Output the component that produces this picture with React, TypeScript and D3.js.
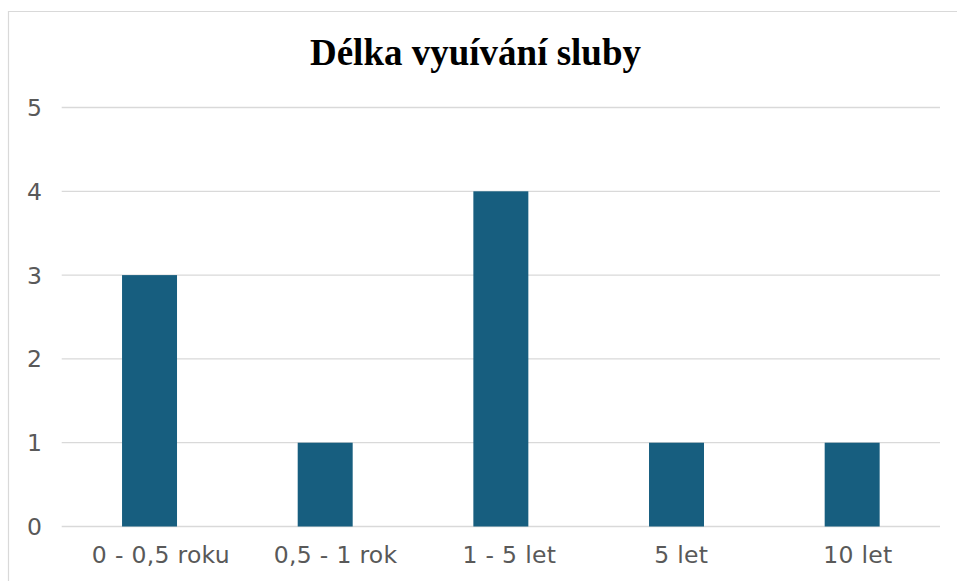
import React from "react";
import * as d3 from "d3";

const categories = ["0 - 0,5 roku", "0,5 - 1 rok", "1 - 5 let", "5 let", "10 let"];
const values = [3, 1, 4, 1, 1];
const yTicks = [0, 1, 2, 3, 4, 5];
const title = "Délka vyuívání sluby";

const W = 957;
const H = 581;
const plot = { left: 61.7, right: 940, top: 107.5, bottom: 526.5 };

export default function App() {
  const x = d3
    .scaleBand<string>()
    .domain(categories)
    .range([plot.left, plot.right])
    .paddingInner(0.687)
    .paddingOuter(0.3435);
  const y = d3.scaleLinear().domain([0, 5]).range([plot.bottom, plot.top]);

  return (
    <svg
      width={W}
      height={H}
      style={{ position: "absolute", left: 0, top: 0, background: "#fff" }}
    >
      <rect x={0} y={0} width={W} height={H} fill="#fff" />
      <line x1={8} x2={W} y1={11.5} y2={11.5} stroke="#d9d9d9" strokeWidth={1.2} />
      <line x1={8.5} x2={8.5} y1={11} y2={H} stroke="#d9d9d9" strokeWidth={1.2} />
      <text
        x={475.5}
        y={64.5}
        textAnchor="middle"
        fontFamily="'Liberation Serif', 'Times New Roman', serif"
        fontWeight="bold"
        fontSize={37}
        fill="#000"
      >
        {title}
      </text>
      {yTicks.map((t) => (
        <g key={t}>
          <line
            x1={plot.left}
            x2={plot.right}
            y1={y(t)}
            y2={y(t)}
            stroke="#d9d9d9"
            strokeWidth={1.3}
          />
          <text
            x={42}
            y={y(t)}
            dy="0.36em"
            textAnchor="end"
            fontFamily="'DejaVu Sans', sans-serif"
            fontSize={23.5}
            fill="#595959"
          >
            {t}
          </text>
        </g>
      ))}
      {categories.map((c, i) => (
        <g key={c}>
          <rect
            x={x(c)}
            y={y(values[i])}
            width={x.bandwidth()}
            height={y(0) - y(values[i])}
            fill="#175E7F"
          />
          <text
            x={(x(c) as number) + x.bandwidth() / 2 + c.length * 0.95}
            y={563}
            textAnchor="middle"
            fontFamily="'DejaVu Sans', sans-serif"
            fontSize={23.5}
            letterSpacing={0.3}
            fill="#595959"
          >
            {c}
          </text>
        </g>
      ))}
    </svg>
  );
}
